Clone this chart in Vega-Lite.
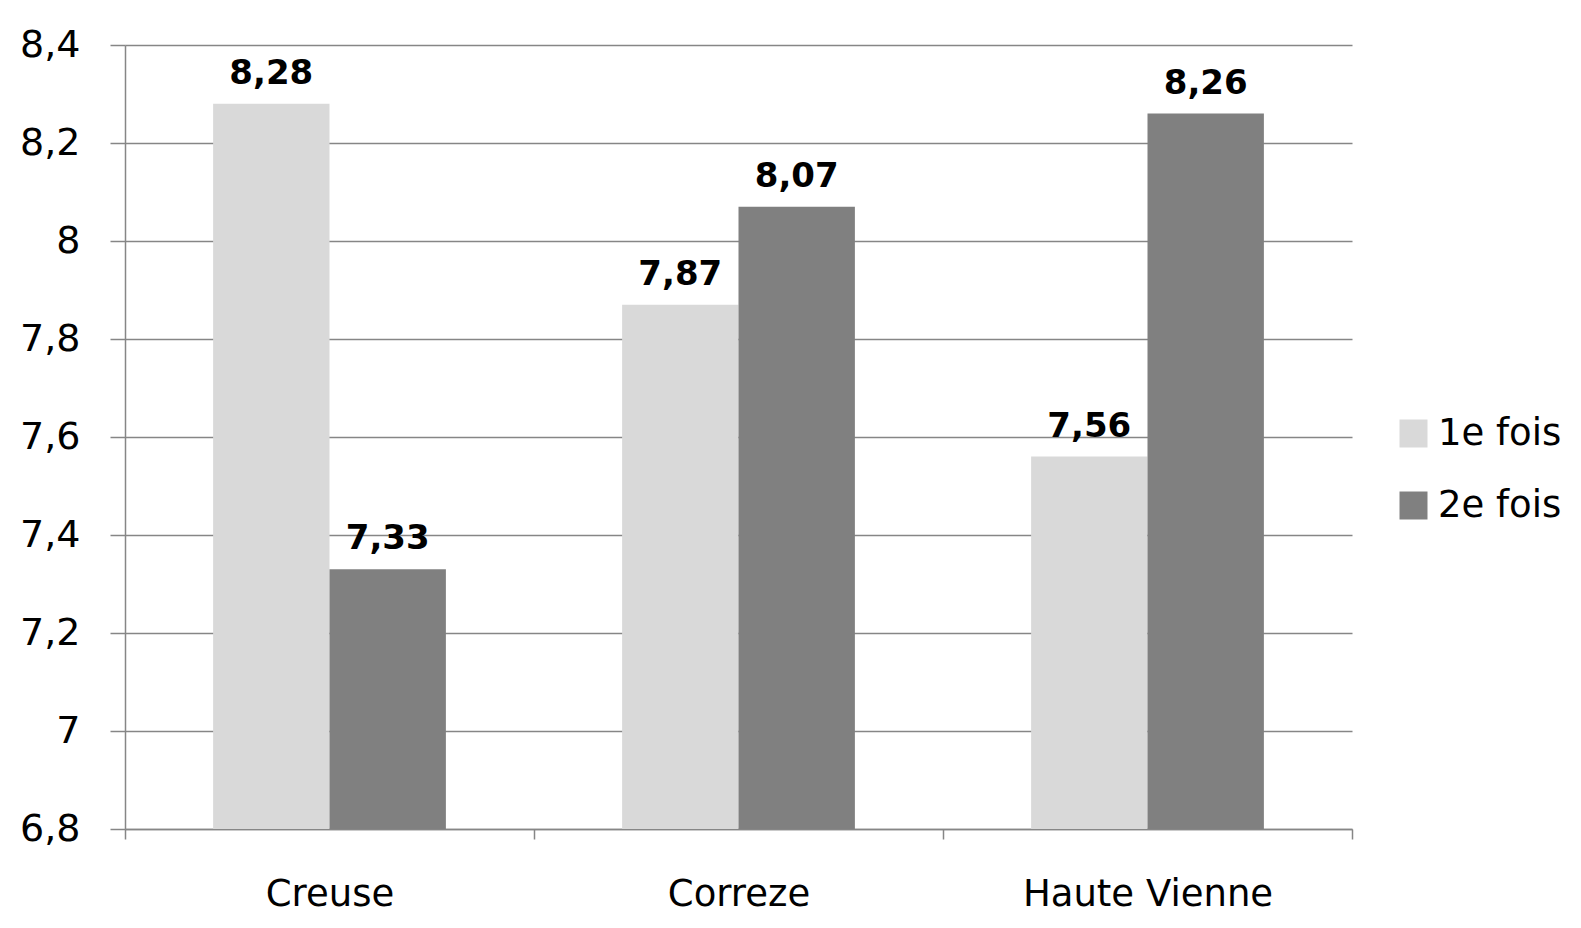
{
  "$schema": "https://vega.github.io/schema/vega-lite/v6.json",
  "autosize": "none",
  "width": 1227,
  "height": 784,
  "padding": {"left": 125, "top": 45, "right": 229, "bottom": 99},
  "background": "white",
  "config": {
    "locale": {"number": {"decimal": ",", "thousands": " ", "grouping": [3], "currency": ["", " €"]}},
    "font": "DejaVu Sans",
    "view": {"stroke": null}
  },
  "data": {
    "values": [
      {"region": "Creuse", "serie": "1e fois", "valeur": 8.28},
      {"region": "Creuse", "serie": "2e fois", "valeur": 7.33},
      {"region": "Correze", "serie": "1e fois", "valeur": 7.87},
      {"region": "Correze", "serie": "2e fois", "valeur": 8.07},
      {"region": "Haute Vienne", "serie": "1e fois", "valeur": 7.56},
      {"region": "Haute Vienne", "serie": "2e fois", "valeur": 8.26}
    ]
  },
  "encoding": {
    "x": {
      "field": "region", "type": "nominal", "sort": ["Creuse", "Correze", "Haute Vienne"],
      "scale": {"paddingInner": 0, "paddingOuter": 0},
      "axis": {
        "title": null, "labelAngle": 0, "labelFontSize": 37, "labelColor": "black", "labelLimit": 0,
        "domainColor": "#868686", "domainWidth": 1.5, "tickColor": "#868686", "tickWidth": 1.5,
        "tickSize": 10, "tickBand": "extent", "labelPadding": 55, "labelBaseline": "middle", "grid": false
      }
    },
    "xOffset": {"field": "serie", "type": "nominal", "scale": {"paddingInner": 0, "paddingOuter": 0.757}},
    "y": {
      "field": "valeur", "type": "quantitative",
      "scale": {"domain": [6.8, 8.4], "zero": false, "nice": false},
      "axis": {
        "title": null, "values": [6.8, 7, 7.2, 7.4, 7.6, 7.8, 8, 8.2, 8.4], "format": "~f",
        "labelFontSize": 38, "labelColor": "black", "labelPadding": 30,
        "domainColor": "#868686", "domainWidth": 1.5, "tickColor": "#868686", "tickWidth": 1.5, "tickSize": 15,
        "gridColor": "#868686", "gridWidth": 1.5
      }
    }
  },
  "layer": [
    {
      "mark": {"type": "bar", "clip": true},
      "encoding": {
        "color": {
          "field": "serie", "type": "nominal",
          "scale": {"domain": ["1e fois", "2e fois"], "range": ["#d9d9d9", "#808080"]},
          "legend": {
            "title": null, "orient": "none", "legendX": 1270, "legendY": 370, "padding": 0,
            "symbolType": "square", "symbolSize": 784, "symbolStrokeWidth": 0,
            "labelFontSize": 37, "labelColor": "black", "rowPadding": 34, "labelOffset": 6
          }
        }
      }
    },
    {
      "mark": {"type": "text", "fontSize": 34, "fontWeight": "bold", "baseline": "alphabetic", "dy": -20, "color": "black"},
      "encoding": {
        "text": {"field": "valeur", "type": "quantitative", "format": ".2f"}
      }
    }
  ]
}
